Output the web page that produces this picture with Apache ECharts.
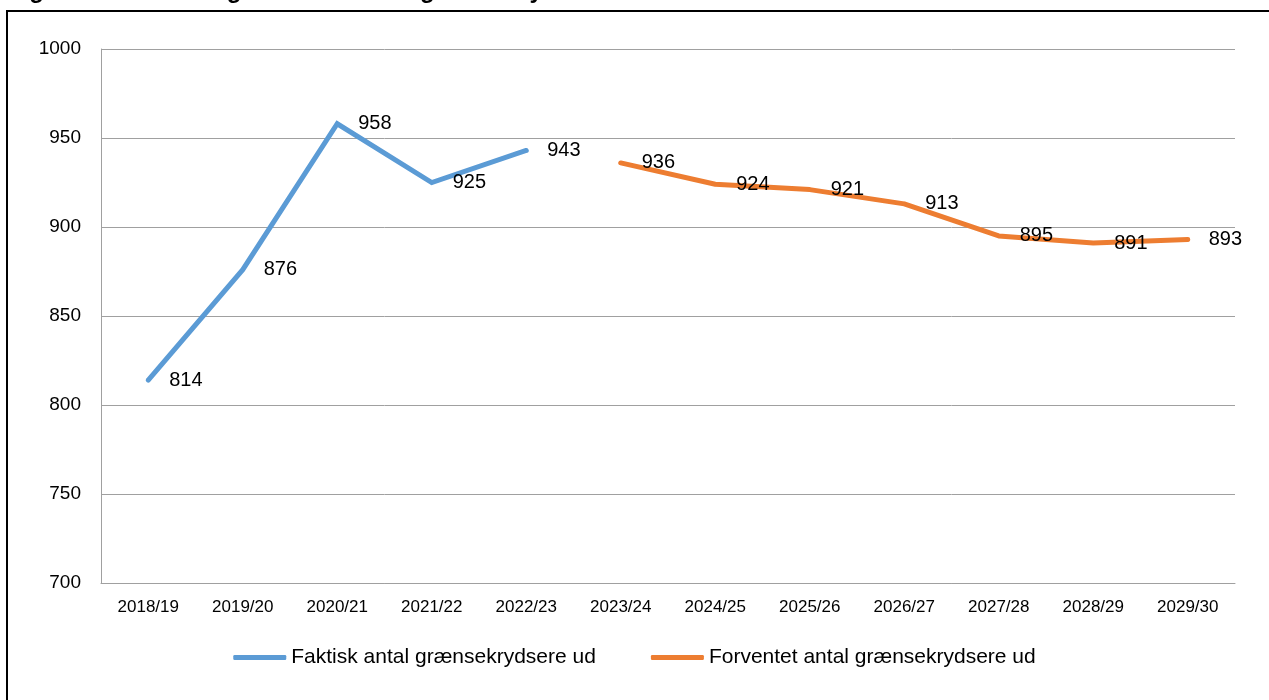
<!DOCTYPE html>
<html>
<head>
<meta charset="utf-8">
<script src="https://cdn.jsdelivr.net/npm/echarts@6/dist/echarts.min.js"></script>
<style>
  html, body { margin: 0; padding: 0; background: #fff; }
  #main { width: 1269px; height: 700px; }
</style>
</head>
<body>
<div id="main"></div>
<script>
// kategorier (skoleår)
var categories = ['2018/19', '2019/20', '2020/21', '2021/22', '2022/23', '2023/24',
  '2024/25', '2025/26', '2026/27', '2027/28', '2028/29', '2029/30'];
// faktisk antal (kun historiske år)
var faktisk = [814, 876, 958, 925, 943, null, null, null, null, null, null, null];
// forventet antal (prognose)
var forventet = [null, null, null, null, null, 936, 924, 921, 913, 895, 891, 893];
var yTicks = { min: 700, max: 1000, step: 50 };

var chart = echarts.init(document.getElementById('main'));

var labelStyle = {
  show: true,
  position: 'right',
  distance: 19,
  fontSize: 20,
  color: '#000',
  fontFamily: 'Liberation Sans, Arial, sans-serif'
};

var option = {
  animation: false,
  textStyle: { fontFamily: 'Liberation Sans, Arial, sans-serif' },
  graphic: [
    {
      type: 'text',
      left: 8,
      top: -21,
      style: {
        text: 'Figur 3.1: Faktisk og forventet antal grænsekrydsere ud af kommunen',
        font: 'bold 24px "Liberation Sans", Arial, sans-serif',
        fill: '#000'
      }
    },
    {
      type: 'rect',
      shape: { x: 7, y: 11, width: 1300, height: 720 },
      style: { fill: '#fff', stroke: '#000', lineWidth: 2 },
      z: -1
    }
  ],
  grid: {
    left: 101,
    right: 34,
    top: 49,
    bottom: 117,
    containLabel: false
  },
  legend: {
    bottom: 27,
    left: 'center',
    itemWidth: 53,
    itemHeight: 5,
    itemGap: 55,
    icon: 'roundRect',
    textStyle: { fontSize: 21, color: '#000' },
    data: ['Faktisk antal grænsekrydsere ud', 'Forventet antal grænsekrydsere ud']
  },
  xAxis: {
    type: 'category',
    data: categories,
    boundaryGap: true,
    axisTick: { show: false },
    axisLine: { lineStyle: { color: '#a0a0a0', width: 1 } },
    axisLabel: { color: '#000', fontSize: 17, margin: 16, interval: 0 }
  },
  yAxis: {
    type: 'value',
    min: yTicks.min,
    max: yTicks.max,
    interval: yTicks.step,
    axisLine: { show: true, lineStyle: { color: '#a0a0a0', width: 1 } },
    axisTick: { show: false },
    splitLine: { lineStyle: { color: '#a0a0a0', width: 1 } },
    axisLabel: {
      color: '#000',
      fontSize: 19,
      margin: 20,
      formatter: function (v) { return String(v); }
    }
  },
  series: [
    {
      name: 'Faktisk antal grænsekrydsere ud',
      type: 'line',
      data: faktisk,
      symbol: 'circle',
      symbolSize: 4,
      color: '#5b9bd5',
      lineStyle: { width: 5, color: '#5b9bd5', cap: 'round', join: 'miter' },
      label: labelStyle
    },
    {
      name: 'Forventet antal grænsekrydsere ud',
      type: 'line',
      data: forventet,
      symbol: 'circle',
      symbolSize: 4,
      color: '#ed7d31',
      lineStyle: { width: 5, color: '#ed7d31', cap: 'round', join: 'round' },
      label: labelStyle
    }
  ]
};

chart.setOption(option);
</script>
</body>
</html>
